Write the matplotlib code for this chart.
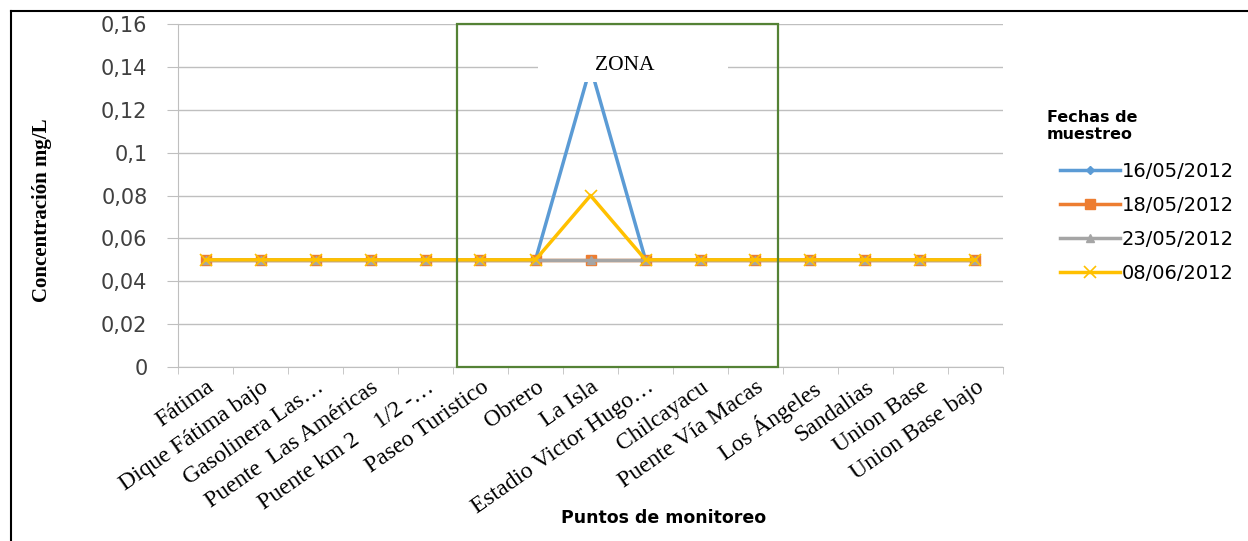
import matplotlib.pyplot as plt
from matplotlib.lines import Line2D
from matplotlib.patches import Rectangle
from matplotlib.ticker import FuncFormatter

puntos = ['Fátima', 'Dique Fátima bajo', 'Gasolinera Las…', 'Puente  Las Américas',
          'Puente km 2    1/2 -…', 'Paseo Turistico', 'Obrero', 'La Isla',
          'Estadio Victor Hugo…', 'Chilcayacu', 'Puente Vía Macas', 'Los Ángeles',
          'Sandalias', 'Union Base', 'Union Base bajo']

f16_05 = [0.05, 0.05, 0.05, 0.05, 0.05, 0.05, 0.05, 0.14, 0.05, 0.05, 0.05, 0.05, 0.05, 0.05, 0.05]
f18_05 = [0.05, 0.05, 0.05, 0.05, 0.05, 0.05, 0.05, 0.05, 0.05, 0.05, 0.05, 0.05, 0.05, 0.05, 0.05]
f23_05 = [0.05, 0.05, 0.05, 0.05, 0.05, 0.05, 0.05, 0.05, 0.05, 0.05, 0.05, 0.05, 0.05, 0.05, 0.05]
f08_06 = [0.05, 0.05, 0.05, 0.05, 0.05, 0.05, 0.05, 0.08, 0.05, 0.05, 0.05, 0.05, 0.05, 0.05, 0.05]

yticks = [0, 0.02, 0.04, 0.06, 0.08, 0.1, 0.12, 0.14, 0.16]

sans = ['DejaVu Sans']
serif = ['Liberation Serif', 'DejaVu Serif']

fig = plt.figure(figsize=(12.48, 5.41), dpi=100)
ax = fig.add_axes([178 / 1248, 1 - 367 / 541, 825 / 1248, 343 / 541])

x = list(range(len(puntos)))
ax.plot(x, f16_05, color='#5B9BD5', lw=2.5, marker='D', ms=4, label='16/05/2012', zorder=3)
ax.plot(x, f18_05, color='#ED7D31', lw=2.5, marker='s', ms=7, label='18/05/2012', zorder=3)
ax.plot(x, f23_05, color='#A5A5A5', lw=2.5, marker='^', ms=6, label='23/05/2012', zorder=3)
ax.plot(x, f08_06, color='#FFC000', lw=2.5, marker='x', ms=8, mew=1.2, label='08/06/2012', zorder=3)

# recuadro de la zona
ax.add_patch(Rectangle((4.58, 0), 10.41 - 4.58, 0.16, fill=False, ec='#548235', lw=1.6,
                       zorder=4, clip_on=False))
ax.add_patch(Rectangle((0.436, 0.831), 0.231, 0.1, transform=ax.transAxes, fc='white',
                       ec='none', zorder=5))
ax.text(0.542, 0.88, 'ZONA', transform=ax.transAxes, ha='center', va='center',
        fontsize=15.5, family=serif, zorder=6)

ax.set_xlim(-0.5, len(puntos) - 0.5)
ax.set_ylim(0, 0.16)
ax.set_yticks(yticks)
ax.yaxis.set_major_formatter(FuncFormatter(lambda v, p: ('%g' % round(v, 2)).replace('.', ',')))
ax.grid(axis='y', color='#BFBFBF', lw=1)
ax.set_axisbelow(True)
for s in ['top', 'right']:
    ax.spines[s].set_visible(False)
ax.spines['left'].set_color('#BFBFBF')
ax.spines['bottom'].set_color('#BFBFBF')
ax.tick_params(axis='y', length=8, color='#BFBFBF', labelsize=15, pad=14)
for t in ax.get_yticklabels():
    t.set_family(sans)
    t.set_color('#404040')

ax.set_xticks(x)
ax.set_xticklabels(puntos, rotation=35, ha='right', rotation_mode='anchor',
                   fontsize=17, family=serif)
ax.set_xticks([i + 0.5 for i in range(-1, len(puntos))], minor=True)
ax.tick_params(axis='x', which='major', length=0, pad=7)
ax.tick_params(axis='x', which='minor', length=5, color='#BFBFBF')

fig.text(664 / 1248, 1 - 518 / 541, 'Puntos de monitoreo', ha='center', va='center',
         fontsize=12.5, fontweight='bold', family=sans)
fig.text(42 / 1248, 1 - 210 / 541, 'Concentración mg/L', ha='center', va='center',
         rotation=90, fontsize=15, fontweight='bold', family=serif)

# leyenda
fig.text(1047 / 1248, 1 - 110 / 541, 'Fechas de\nmuestreo', ha='left', va='top',
         fontsize=11.5, fontweight='bold', family=sans, linespacing=1.15)
ax.legend(loc='upper left', bbox_to_anchor=(1052 / 1248, 1 - 154 / 541),
          bbox_transform=fig.transFigure, frameon=False,
          prop={'family': sans, 'size': 14}, handlelength=3.1, handletextpad=0.1,
          labelspacing=0.78, borderaxespad=0)

# marco de la figura (arriba e izquierda)
fig.add_artist(Line2D([11 / 1248, 1], [1 - 11 / 541, 1 - 11 / 541], color='black', lw=1.5))
fig.add_artist(Line2D([11 / 1248, 11 / 1248], [0, 1 - 11 / 541], color='black', lw=1.5))

fig.savefig('out.png', dpi=100)
